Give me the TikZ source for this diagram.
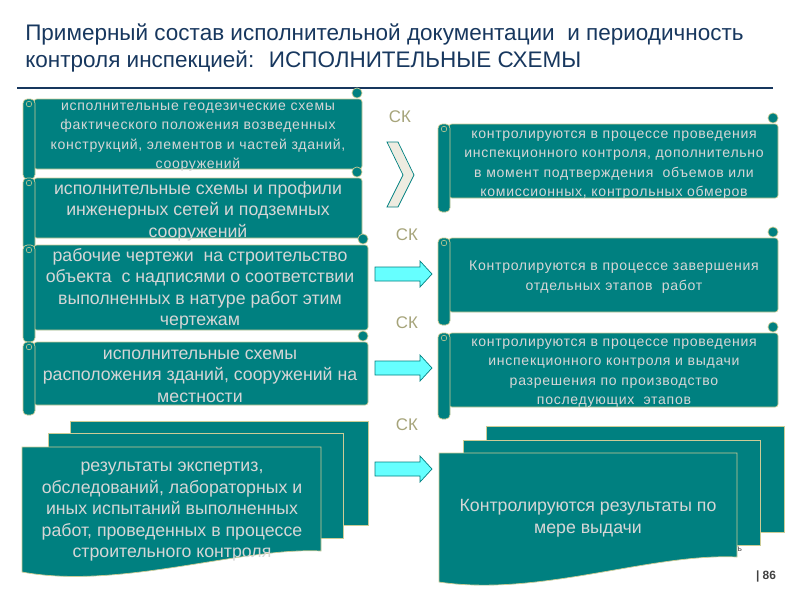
\documentclass[tikz,border=0pt]{standalone}
\usepackage{fontspec}
\setmainfont{Liberation Sans}
\newfontfamily\wide[LetterSpace=5]{Liberation Sans}
\definecolor{sea}{RGB}{0,128,128}
\definecolor{rim}{RGB}{204,204,150}
\definecolor{ink}{RGB}{214,214,214}
\definecolor{navy}{RGB}{23,55,94}
\definecolor{khaki}{RGB}{166,164,122}
\definecolor{aqua}{RGB}{102,255,255}
\definecolor{paper}{RGB}{238,236,225}
\tikzset{
  sea box/.style={fill=sea, draw=rim, line width=0.5pt},
  txt/.style={text=ink, align=center, inner sep=0pt, font=\fontsize{12.6}{15.3}\selectfont},
  small txt/.style={text=ink, align=center, inner sep=0pt, font=\wide\fontsize{10}{13.9}\selectfont},
  ck/.style={text=khaki, inner sep=0pt, font=\fontsize{12}{14}\selectfont},
  block arrow/.style={fill=aqua, draw=sea, line width=0.5pt},
}
% xL, top, right, body bottom, roll bottom
\newcommand{\scrollshape}[5]{%
  \filldraw[sea box, rounded corners=2pt] (#1+11,#2) -- (#3,#2) -- (#3,#4) -- (#1+11,#4) -- cycle;
  \filldraw[sea box, rounded corners=3pt] (#1,#2) rectangle (#1+12,#5);
  \filldraw[sea box] (#3-5,#2-6) circle (3.6pt);
  \draw[rim, line width=0.4pt] (#1+6,#2+5) circle (2pt);
}
\begin{document}
\begin{tikzpicture}[x=0.025cm, y=-0.025cm]
    \useasboundingbox (0,0) rectangle (800,600);

    \node[anchor=base west, text=navy, align=left, inner sep=0pt,
          font=\fontsize{16}{19.2}\selectfont] (title) at (25,67)
        {Примерный состав исполнительной документации \ и периодичность\\
         контроля инспекцией: \ ИСПОЛНИТЕЛЬНЫЕ СХЕМЫ};
    \draw[navy, line width=0.9pt] (17,88) -- (773,88);

    % left column
    \scrollshape{23}{99}{362}{169}{179}
    \node[small txt] (geo) at (198,137)
        {исполнительные геодезические схемы\\фактического положения возведенных\\конструкций, элементов и частей зданий,\\сооружений};
    \scrollshape{23}{178}{362}{238}{250}
    \node[txt] (nets) at (198,211)
        {исполнительные схемы и профили\\инженерных сетей и подземных\\сооружений};
    \scrollshape{23}{245}{368}{330}{342}
    \node[txt] (drawings) at (200,289)
        {рабочие чертежи \ на строительство\\объекта \ с надписями о соответствии\\выполненных в натуре работ этим\\чертежам};
    \scrollshape{23}{342}{368}{405}{415}
    \node[txt] (place) at (200,376)
        {исполнительные схемы\\расположения зданий, сооружений на\\местности};

    \filldraw[sea box] (70,421) rectangle (368,525);
    \filldraw[sea box] (48,433) rectangle (343,538);
    \filldraw[sea box] (22,447) -- (321,447) -- (321,551) .. controls (240,547) and (120,590) .. (22,572) -- cycle;
    \node[txt] (expert) at (172,512)
        {результаты экспертиз,\\обследований, лабораторных и\\иных испытаний выполненных\\работ, проведенных в процессе\\строительного контроля};

    % middle
    \node[ck] (ck1) at (400,117) {СК};
    \node[ck] (ck2) at (407,235) {СК};
    \node[ck] (ck3) at (407,323) {СК};
    \node[ck] (ck4) at (407,425) {СК};
    \filldraw[fill=paper, draw=sea, line width=0.5pt]
        (387,142) -- (398,142) -- (414,175) -- (398,207) -- (387,207) -- (403,175) -- cycle;
    \foreach \y in {274,368,469}
        \filldraw[block arrow] (375,\y-7) -- (420,\y-7) -- (420,\y-13) -- (432,\y)
            -- (420,\y+13) -- (420,\y+7) -- (375,\y+7) -- cycle;

    % right column
    \scrollshape{438}{124}{778}{198}{212}
    \node[small txt] (ctrl1) at (614,165)
        {контролируются в процессе проведения\\инспекционного контроля, дополнительно\\в момент подтверждения \ объемов или\\комиссионных, контрольных обмеров};
    \scrollshape{438}{238}{778}{312}{325}
    \node[small txt] (ctrl2) at (614,277)
        {Контролируются в процессе завершения\\отдельных этапов \ работ};
    \scrollshape{438}{333}{778}{407}{419}
    \node[small txt] (ctrl3) at (614,373)
        {контролируются в процессе проведения\\инспекционного контроля и выдачи\\разрешения по производство\\последующих \ этапов};

    \node[text=black!70, inner sep=0pt, font=\fontsize{6}{7}\selectfont] (foot) at (738,549) {ть};
    \filldraw[sea box] (486,426) rectangle (784,532);
    \filldraw[sea box] (463,440) rectangle (760,545);
    \filldraw[sea box] (439,453) -- (737,453) -- (737,557) .. controls (650,553) and (540,597) .. (439,582) -- cycle;
    \node[txt] (results) at (588,518)
        {Контролируются результаты по\\мере выдачи};

    \node[text=black!75, inner sep=0pt, font=\bfseries\fontsize{8.5}{10}\selectfont] (page) at (766,576) {| 86};
\end{tikzpicture}
\end{document}
